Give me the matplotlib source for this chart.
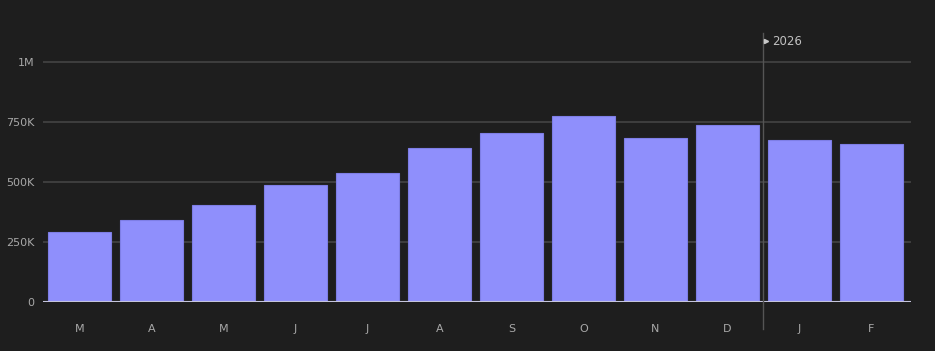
import matplotlib
matplotlib.use('Agg')
from matplotlib import pyplot as plt
from matplotlib.ticker import FuncFormatter
import matplotlib.transforms as mtransforms

months = ['M', 'A', 'M', 'J', 'J', 'A', 'S', 'O', 'N', 'D', 'J', 'F']
values = [292000, 342000, 404000, 488000, 538000, 642000,
          704000, 775000, 683000, 738000, 675000, 658000]
yticks = [0, 250000, 500000, 750000, 1000000]
year_label = '2026'
year_pos = 9.5  # boundary between D and J

bg = '#1e1e1e'
bar_color = '#8f8ffc'
text_color = '#a8a8a8'

fig = plt.figure(figsize=(9.35, 3.51), dpi=100, facecolor=bg)
W, H = 935, 351
ax = fig.add_axes([43 / W, 49 / H, (911 - 43) / W, (302 - 33) / H])
ax.set_facecolor(bg)

x = list(range(len(months)))
ax.bar(x, values, width=0.875, color=bar_color, edgecolor='#7e7ee6',
       linewidth=0.8, zorder=3)

ax.set_xlim(-0.51, 11.55)
ax.set_ylim(0, 1.12e6)


def fmt(v, pos):
    if v >= 1e6:
        return '%gM' % (v / 1e6)
    if v >= 1e3:
        return '%gK' % (v / 1e3)
    return '%g' % v


ax.set_yticks(yticks)
ax.yaxis.set_major_formatter(FuncFormatter(fmt))
ax.set_xticks(x)
ax.set_xticklabels(months)
ax.tick_params(axis='both', length=0, colors=text_color, labelsize=8)
ax.tick_params(axis='y', pad=6)
ax.tick_params(axis='x', pad=16)

for y in yticks[1:]:
    ax.axhline(y, color='#474747', linewidth=1.1, zorder=1)
ax.axhline(0, color='#c4c4dc', linewidth=1.5, zorder=4)

for s in ax.spines.values():
    s.set_visible(False)

# year divider
trans = mtransforms.blended_transform_factory(ax.transData, ax.transAxes)
ax.plot([year_pos, year_pos], [-0.1, 1.0], transform=trans, color='#555555',
        linewidth=1.0, clip_on=False, zorder=5)
ax.plot([year_pos + 0.035], [0.97], transform=trans, marker='>', markersize=3,
        color='#c8c8c8', clip_on=False, zorder=6)
ax.text(year_pos + 0.12, 0.97, year_label, transform=trans, color='#c0c0c0',
        fontsize=8.5, va='center', ha='left')

plt.savefig('out.png', dpi=100, facecolor=bg)
